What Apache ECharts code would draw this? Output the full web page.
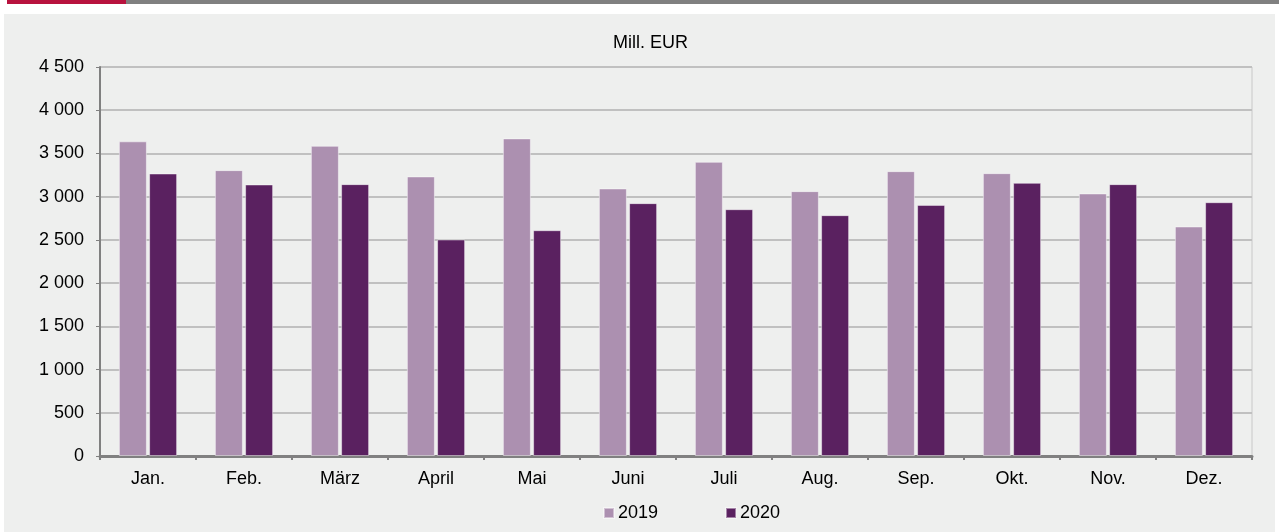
<!DOCTYPE html>
<html>
<head>
<meta charset="utf-8">
<script src="https://cdn.jsdelivr.net/npm/echarts@6/dist/echarts.min.js"></script>
<style>
  html, body { margin: 0; padding: 0; background: #ffffff; }
  #chart { width: 1279px; height: 532px; }
</style>
</head>
<body>
<div id="chart"></div>
<script>
// Monatswerte, Mill. EUR
const months = ['Jan.', 'Feb.', 'März', 'April', 'Mai', 'Juni', 'Juli', 'Aug.', 'Sep.', 'Okt.', 'Nov.', 'Dez.'];
const values2019 = [3640, 3307, 3588, 3234, 3674, 3095, 3403, 3064, 3295, 3272, 3037, 2655];
const values2020 = [3268, 3141, 3145, 2505, 2612, 2925, 2855, 2786, 2905, 3160, 3145, 2936];
const seriesNames = ['2019', '2020'];

const font = 'Liberation Sans, Arial, sans-serif';

var myChart = echarts.init(document.getElementById('chart'));

const option = {
  backgroundColor: '#ffffff',
  animation: false,
  color: ['#ac90b0', '#5a2160'],
  graphic: [
    { type: 'rect', z: -10, shape: { x: 4, y: 14, width: 1271, height: 518 }, style: { fill: '#eeefee' } },
    { type: 'rect', shape: { x: 7, y: 0, width: 119, height: 4 }, style: { fill: '#b8123e' } },
    { type: 'rect', shape: { x: 126, y: 0, width: 1153, height: 4 }, style: { fill: '#808080' } },
    // rechte Rahmenlinie der Zeichenfläche
    { type: 'line', shape: { x1: 1252, y1: 67, x2: 1252, y2: 456 }, style: { stroke: '#c8c8c8', lineWidth: 1 } }
  ],
  title: {
    text: 'Mill. EUR',
    left: 608,
    top: 29,
    textStyle: { fontFamily: font, fontSize: 18, fontWeight: 'normal', color: '#000000' }
  },
  legend: {
    top: 499,
    left: 598,
    itemWidth: 10,
    itemHeight: 10,
    itemGap: 67,
    icon: 'rect',
    textStyle: { fontFamily: font, fontSize: 18, color: '#000000', padding: [0, 0, 0, -1] },
    data: seriesNames
  },
  grid: {
    left: 100,
    right: 27,
    top: 67,
    bottom: 76
  },
  xAxis: {
    type: 'category',
    data: months,
    axisLine: { lineStyle: { color: '#808080', width: 3 } },
    axisTick: { show: true, length: 4, lineStyle: { color: '#808080', width: 2 } },
    axisLabel: { fontFamily: font, fontSize: 18, color: '#000000', margin: 14 }
  },
  yAxis: {
    type: 'value',
    min: 0,
    max: 4500,
    interval: 500,
    axisLine: { show: true, lineStyle: { color: '#808080', width: 2 } },
    axisTick: { show: true, length: 4, lineStyle: { color: '#808080', width: 1 } },
    splitLine: { lineStyle: { color: '#c0c0c0', width: 2 } },
    axisLabel: {
      fontFamily: font,
      fontSize: 18,
      color: '#000000',
      margin: 16,
      formatter: function (v) {
        return String(v).replace(/\B(?=(\d{3})+(?!\d))/g, ' ');
      }
    }
  },
  series: [{
    name: seriesNames[0],
    type: 'bar',
    barWidth: 28,
    barGap: '8%',
    itemStyle: { borderColor: 'rgba(255,255,255,0.45)', borderWidth: 1 },
    data: values2019
  }, {
    name: seriesNames[1],
    type: 'bar',
    barWidth: 28,
    barGap: '8%',
    itemStyle: { borderColor: 'rgba(255,255,255,0.45)', borderWidth: 1 },
    data: values2020
  }]
};

myChart.setOption(option);
</script>
</body>
</html>
